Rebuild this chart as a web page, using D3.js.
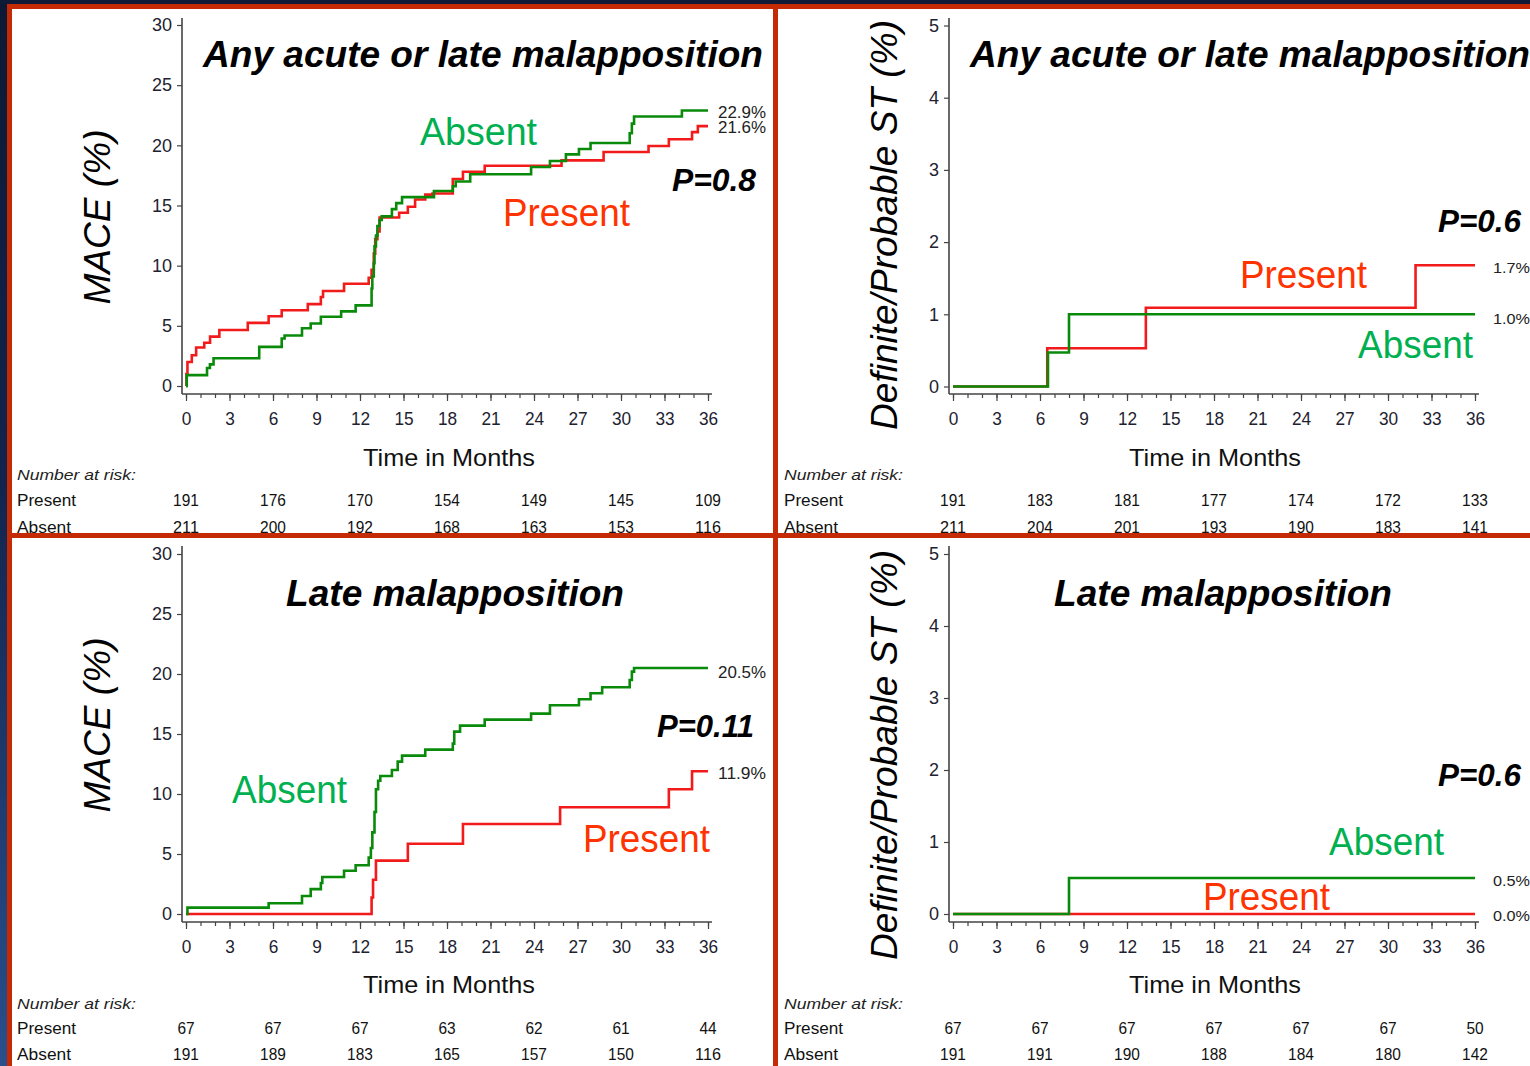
<!DOCTYPE html>
<html><head><meta charset="utf-8">
<script src="https://cdn.jsdelivr.net/npm/d3@7"></script>
<style>html,body{margin:0;padding:0;background:#0e1a36;overflow:hidden}svg{display:block}</style>
</head><body><svg id="c" width="1530" height="1066"></svg>
<script>
// ---------- data ----------
const monthTicks = [0,3,6,9,12,15,18,21,24,27,30,33,36];
const minorMonths = d3.range(0, 37, 1);
const riskMonths = [0,6,12,18,24,30,36];
const maceYTicks = [0,5,10,15,20,25,30];
const stYTicks = [0,1,2,3,4,5];

// step data: [month, cumulative %]
const maceAnyAbsent = [[0,0],[0.05,0.9],[1.45,1.5],[1.65,1.8],[1.9,2.3],[5.05,3.25],[6.6,3.95],[6.8,4.2],[8.0,4.8],[8.6,5.2],[9.3,5.75],[10.7,6.2],[11.7,6.7],[12.8,8.1],[12.85,9.1],[12.95,10.2],[13.0,11.6],[13.1,12.5],[13.2,13.3],[13.35,13.8],[13.5,14.1],[14.2,14.7],[14.5,15.2],[14.9,15.7],[17.1,16.2],[18.4,16.6],[18.6,17.0],[19.6,17.6],[23.8,18.2],[25.1,18.7],[26.2,19.25],[27.1,19.7],[27.9,20.2],[30.6,21.0],[30.75,21.8],[30.9,22.4],[34.2,22.9],[36,22.9]];
const maceAnyPresent = [[0,0],[0.03,1.0],[0.1,2.0],[0.4,2.55],[0.7,3.2],[1.26,3.6],[1.66,4.1],[2.3,4.65],[4.26,5.25],[5.7,5.8],[6.6,6.3],[8.4,6.8],[9.3,7.4],[9.45,7.9],[10.9,8.5],[12.6,9.0],[12.8,9.65],[12.95,11.0],[13.05,12.2],[13.2,12.85],[13.35,14.0],[14.7,14.4],[15.3,14.9],[15.8,15.5],[16.5,15.9],[17.0,16.0],[18.4,17.2],[19.1,17.8],[20.6,18.3],[25.9,18.75],[28.8,19.45],[31.9,19.95],[33.3,20.5],[34.9,21.1],[35.3,21.6],[36,21.6]];
const stAnyAbsent = [[0,0],[6.55,0.47],[8.0,1.0],[36,1.0]];
const stAnyPresent = [[0,0],[6.5,0.53],[13.3,1.09],[31.9,1.68],[36,1.68]];
const maceLateAbsent = [[0,0],[0.1,0.53],[5.7,0.9],[8.0,1.5],[8.6,2.07],[9.3,2.58],[9.4,3.08],[10.9,3.6],[11.7,4.06],[12.6,4.7],[12.75,5.5],[12.85,6.8],[13.0,8.5],[13.1,10.4],[13.25,11.1],[13.4,11.5],[14.2,12.0],[14.6,12.7],[14.9,13.2],[16.5,13.7],[18.4,14.2],[18.5,15.2],[18.9,15.7],[20.6,16.2],[23.8,16.7],[25.1,17.4],[27.1,17.9],[27.9,18.4],[28.7,18.9],[30.6,19.5],[30.75,20.2],[30.9,20.5],[36,20.5]];
const maceLatePresent = [[0,0],[12.8,1.37],[12.9,2.86],[13.1,4.45],[15.3,5.85],[19.1,7.5],[25.8,8.9],[33.3,10.4],[34.9,11.9],[36,11.9]];
const stLateAbsent = [[0,0],[8.0,0.5],[36,0.5]];
const stLatePresent = [[0,0],[36,0]];

const riskAnyMacePresent = [191,176,170,154,149,145,109];
const riskAnyMaceAbsent  = [211,200,192,168,163,153,116];
const riskAnyStPresent   = [191,183,181,177,174,172,133];
const riskAnyStAbsent    = [211,204,201,193,190,183,141];
const riskLateMacePresent = [67,67,67,63,62,61,44];
const riskLateMaceAbsent  = [191,189,183,165,157,150,116];
const riskLateStPresent   = [67,67,67,67,67,67,50];
const riskLateStAbsent    = [191,191,190,188,184,180,142];

const titles = ["Any acute or late malapposition","Any acute or late malapposition","Late malapposition","Late malapposition"];
const pValues = ["P=0.8","P=0.6","P=0.11","P=0.6"];
const endLabels = [["22.9%","21.6%"],["1.7%","1.0%"],["20.5%","11.9%"],["0.5%","0.0%"]];
const yLabels = ["MACE (%)","Definite/Probable ST (%)","MACE (%)","Definite/Probable ST (%)"];

// ---------- layout ----------
const FONT = "'Liberation Sans', Arial, sans-serif";
const GREEN_LINE = "#0a8a0a", RED_LINE = "#f21b1b";
const GREEN_TXT = "#00b050", RED_TXT = "#ff3300";

const panels = [
 {xr:[186,708], yr:[386,25], yd:[0,30], yt:maceYTicks, axX:182, axY:394, axTop:18,
  absent:maceAnyAbsent, present:maceAnyPresent, rP:riskAnyMacePresent, rA:riskAnyMaceAbsent,
  title:{x:203,y:67,w:560}, abs:{x:420,y:145,w:117}, pres:{x:503,y:226,w:127}, p:{x:672,y:191,w:84},
  ends:[{x:718,y:118,w:48},{x:718,y:133,w:48}], endSize:16,
  ylab:{x:110,y:217,w:175}, time:{x:363,y:466}, risk:{x:17,y:[480,506,533]}},
 {xr:[953,1475], yr:[386.5,25.5], yd:[0,5], yt:stYTicks, axX:949, axY:394, axTop:18,
  absent:stAnyAbsent, present:stAnyPresent, rP:riskAnyStPresent, rA:riskAnyStAbsent,
  title:{x:970,y:67,w:560}, abs:{x:1358,y:358,w:115}, pres:{x:1240,y:288,w:127}, p:{x:1438,y:232,w:83},
  ends:[{x:1493,y:273,w:37},{x:1493,y:324,w:37}], endSize:14,
  ylab:{x:897,y:225,w:410}, time:{x:1129,y:466}, risk:{x:784,y:[480,506,533]}},
 {xr:[186,708], yr:[914,554], yd:[0,30], yt:maceYTicks, axX:182, axY:922, axTop:546,
  absent:maceLateAbsent, present:maceLatePresent, rP:riskLateMacePresent, rA:riskLateMaceAbsent,
  title:{x:286,y:606,w:338}, abs:{x:232,y:803,w:115}, pres:{x:583,y:852,w:127}, p:{x:657,y:737,w:97},
  ends:[{x:718,y:678,w:48},{x:718,y:779,w:48}], endSize:16,
  ylab:{x:110,y:725,w:175}, time:{x:363,y:993}, risk:{x:17,y:[1009,1034,1060]}},
 {xr:[953,1475], yr:[914,554], yd:[0,5], yt:stYTicks, axX:949, axY:922, axTop:546,
  absent:stLateAbsent, present:stLatePresent, rP:riskLateStPresent, rA:riskLateStAbsent,
  title:{x:1054,y:606,w:338}, abs:{x:1329,y:855,w:115}, pres:{x:1203,y:910,w:127}, p:{x:1438,y:786,w:83},
  ends:[{x:1493,y:886,w:37},{x:1493,y:921,w:37}], endSize:14,
  ylab:{x:897,y:755,w:410}, time:{x:1129,y:993}, risk:{x:784,y:[1009,1034,1060]}}
];

const svg = d3.select("#c");
const defs = svg.append("defs");
const lg = defs.append("linearGradient").attr("id","lg").attr("x1",0).attr("y1",0).attr("x2",0).attr("y2",1);
lg.append("stop").attr("offset","0%").attr("stop-color","#0d1934");
lg.append("stop").attr("offset","45%").attr("stop-color","#12244c");
lg.append("stop").attr("offset","100%").attr("stop-color","#2a4f8c");

svg.append("rect").attr("width",1530).attr("height",1066).attr("fill","#0e1a36");
svg.append("rect").attr("x",0).attr("y",0).attr("width",8).attr("height",1066).attr("fill","url(#lg)");
svg.append("rect").attr("x",12).attr("y",9).attr("width",1518).attr("height",1057).attr("fill","#ffffff");

function txt(g, s, x, y, o) {
  const t = g.append("text").attr("x",x).attr("y",y).text(s)
    .attr("font-family", FONT).attr("font-size", o.size||16)
    .attr("fill", o.fill||"#111");
  if (o.bold) t.attr("font-weight","bold");
  if (o.italic) t.attr("font-style","italic");
  if (o.anchor) t.attr("text-anchor", o.anchor);
  if (o.w) t.attr("textLength", o.w).attr("lengthAdjust","spacingAndGlyphs");
  return t;
}

panels.forEach((p, i) => {
  const g = svg.append("g");
  const x = d3.scaleLinear().domain([0,36]).range(p.xr);
  const y = d3.scaleLinear().domain(p.yd).range(p.yr);

  // axes lines
  g.append("line").attr("x1",p.axX).attr("x2",p.axX).attr("y1",p.axTop).attr("y2",p.axY)
    .attr("stroke","#444").attr("stroke-width",1.6);
  g.append("line").attr("x1",p.axX).attr("x2",x(36)+4).attr("y1",p.axY).attr("y2",p.axY)
    .attr("stroke","#444").attr("stroke-width",1.6);

  // minor x ticks
  const minor = g.append("g").attr("transform",`translate(0,${p.axY})`)
    .call(d3.axisBottom(x).tickValues(minorMonths).tickSize(4).tickFormat(""));
  minor.select(".domain").remove();
  minor.selectAll("line").attr("stroke","#444").attr("stroke-width",1.2);
  // major x ticks + labels
  const major = g.append("g").attr("transform",`translate(0,${p.axY})`)
    .call(d3.axisBottom(x).tickValues(monthTicks).tickSize(7).tickPadding(11).tickFormat(d3.format("d")));
  major.select(".domain").remove();
  major.selectAll("line").attr("stroke","#444").attr("stroke-width",1.2);
  major.selectAll("text").attr("font-family",FONT).attr("font-size",19).attr("fill","#1e2230")
    .attr("textLength", d => String(d).length * 9.6).attr("lengthAdjust","spacingAndGlyphs");

  // y axis
  const ya = g.append("g").attr("transform",`translate(${p.axX},0)`)
    .call(d3.axisLeft(y).tickValues(p.yt).tickSize(5).tickPadding(5).tickFormat(d3.format("d")));
  ya.select(".domain").remove();
  ya.selectAll("line").attr("stroke","#444").attr("stroke-width",1.2);
  ya.selectAll("text").attr("font-family",FONT).attr("font-size",18).attr("fill","#1e2230");

  // curves
  const line = d3.line().x(d => x(d[0])).y(d => y(d[1])).curve(d3.curveStepAfter);
  g.append("path").datum(p.present).attr("d",line).attr("fill","none")
    .attr("stroke",RED_LINE).attr("stroke-width",2.6);
  g.append("path").datum(p.absent).attr("d",line).attr("fill","none")
    .attr("stroke",GREEN_LINE).attr("stroke-width",2.6);

  // texts
  txt(g, titles[i], p.title.x, p.title.y, {size:36, bold:true, italic:true, w:p.title.w, fill:"#000"});
  txt(g, "Absent", p.abs.x, p.abs.y, {size:38, fill:GREEN_TXT, w:p.abs.w});
  txt(g, "Present", p.pres.x, p.pres.y, {size:38, fill:RED_TXT, w:p.pres.w});
  txt(g, pValues[i], p.p.x, p.p.y, {size:31, bold:true, italic:true, w:p.p.w, fill:"#000"});
  endLabels[i].forEach((s, k) => txt(g, s, p.ends[k].x, p.ends[k].y, {size:p.endSize, fill:"#222", w:p.ends[k].w}));

  txt(g, yLabels[i], 0, 0, {size:37, italic:true, anchor:"middle", fill:"#000"})
    .attr("transform", `translate(${p.ylab.x},${p.ylab.y}) rotate(-90)`)
    .attr("textLength", p.ylab.w).attr("lengthAdjust","spacingAndGlyphs");

  txt(g, "Time in Months", p.time.x, p.time.y, {size:24, fill:"#111", w:172});

  // number at risk
  txt(g, "Number at risk:", p.risk.x, p.risk.y[0], {size:15, italic:true, fill:"#222", w:119});
  txt(g, "Present", p.risk.x, p.risk.y[1], {size:16, fill:"#111", w:59});
  txt(g, "Absent", p.risk.x, p.risk.y[2], {size:16, fill:"#111", w:54});
  riskMonths.forEach((m, k) => {
    txt(g, String(p.rP[k]), x(m), p.risk.y[1], {size:17, anchor:"middle", fill:"#111", w:String(p.rP[k]).length * 8.6});
    txt(g, String(p.rA[k]), x(m), p.risk.y[2], {size:17, anchor:"middle", fill:"#111", w:String(p.rA[k]).length * 8.6});
  });
});

// borders (drawn on top)
const RED = "#c42a04";
svg.append("rect").attr("x",0).attr("y",0).attr("width",1530).attr("height",4).attr("fill","#0e1a36");
svg.append("rect").attr("x",7).attr("y",4).attr("width",1523).attr("height",5).attr("fill",RED);
svg.append("rect").attr("x",7).attr("y",4).attr("width",5).attr("height",1062).attr("fill",RED);
svg.append("rect").attr("x",773).attr("y",4).attr("width",5).attr("height",1062).attr("fill",RED);
svg.append("rect").attr("x",7).attr("y",533).attr("width",1523).attr("height",5).attr("fill",RED);
</script></body></html>
